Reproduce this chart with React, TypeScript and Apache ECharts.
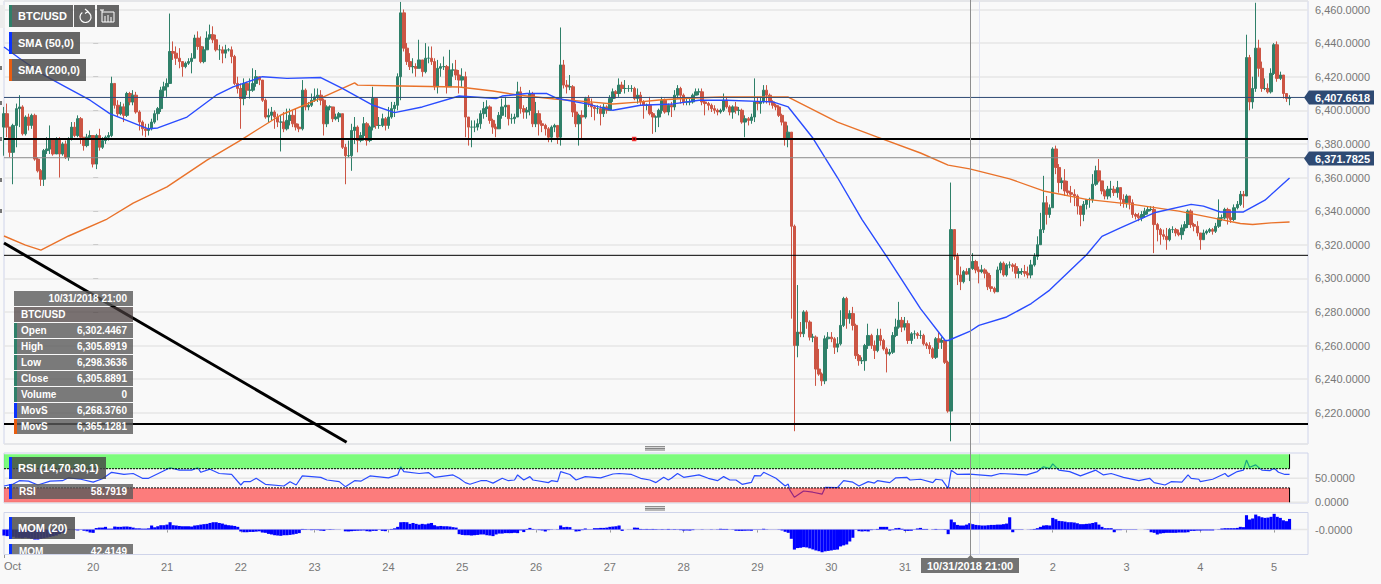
import React, { useEffect, useRef } from "react";
import * as echarts from "echarts";

// Hourly candles, one array per day. Each row is [close, high, low]; open is the previous close.
const firstOpen = 6390;
const firstHour = -29; // hours counted from Oct 20 00:00
const oct19 = [[6398,6402,6373],[6390,6404,6384],[6375,6390,6372],[6391,6392,6356],[6401,6404,6378],[6402,6409,6390],[6386,6403,6385],[6396,6397,6385],[6391,6398,6388],[6397,6398,6389],[6371,6398,6370],[6364,6372,6363],[6359,6365,6355],[6376,6377,6355],[6377,6384,6374],[6383,6391,6374],[6374,6383,6373],[6383,6384,6374],[6374,6384,6360],[6380,6381,6373],[6372,6382,6371],[6383,6384,6370],[6390,6393,6382],[6385,6393,6384],[6395,6397,6384],[6384,6396,6380],[6379,6384,6376],[6384,6386,6378],[6385,6388,6383]];
const oct20 = [[6368,6385,6366],[6385,6386,6365],[6378,6389,6376],[6382,6384,6377],[6384,6385,6380],[6385,6387,6382],[6416,6420,6384],[6403,6412,6401],[6398,6406,6396],[6402,6405,6397],[6397,6404,6393],[6410,6411,6396],[6405,6411,6403],[6409,6412,6403],[6399,6411,6398],[6393,6400,6388],[6389,6394,6385],[6388,6392,6384],[6389,6392,6385],[6393,6395,6388],[6398,6400,6392],[6401,6402,6394],[6412,6414,6399],[6414,6417,6408]];
const oct21 = [[6416,6419,6408],[6435,6457.6,6416],[6434,6441,6430],[6431,6438,6427],[6429,6437,6425],[6426,6429,6420],[6428,6429,6425],[6429,6431,6427],[6431,6434,6422],[6443,6445,6431],[6438,6447,6436],[6429,6444,6428],[6436,6438,6428],[6443,6447,6436],[6445,6451,6442],[6442,6450,6440],[6436,6445,6435],[6436,6439,6430],[6434,6438,6428],[6436,6439,6431],[6436,6437,6435],[6432,6438,6428],[6416,6433,6415],[6413,6420,6410]];
const oct22 = [[6407,6416,6389],[6416,6419,6403],[6412,6417,6409],[6412,6419,6407],[6416,6425,6411],[6420,6424,6414],[6418,6420,6415],[6406,6417,6405],[6396,6407,6395],[6397,6401,6393],[6399,6402,6394],[6396,6400,6389],[6393,6398,6390],[6393,6397,6375.5],[6389,6399,6387],[6394,6401,6388],[6397,6401,6391],[6392,6400,6390],[6390,6401,6388],[6389,6392,6387],[6412,6418,6388],[6402,6413,6400],[6403,6405,6400],[6406,6410,6402]];
const oct23 = [[6408,6413,6405],[6409,6413,6405],[6406,6412,6403],[6392,6407,6385],[6402,6403,6390],[6402,6403,6400],[6395,6402,6393],[6396,6398,6394],[6398,6399,6393],[6378,6398,6377],[6373,6380,6356],[6373,6382,6372],[6388,6392,6364],[6390,6396,6380],[6382,6391,6375],[6385,6387,6381],[6392,6396,6382],[6382,6393,6379],[6390,6391,6381],[6407,6414,6388],[6391,6407,6389],[6391,6396,6389],[6395,6398,6390],[6391,6396,6388]];
const oct24 = [[6396,6402,6389],[6401,6405,6395],[6403,6405,6396],[6420,6422,6400],[6458,6464.5,6406],[6437,6460,6435],[6429,6440,6427],[6426,6434,6424],[6426,6431,6422],[6425,6428,6420],[6430,6442,6426],[6423,6430,6420],[6431,6440,6422],[6431,6438,6428],[6429,6438,6427],[6414,6431,6412],[6425,6430,6410],[6426,6428,6420],[6426,6432,6424],[6414,6427,6410],[6424,6436,6414],[6424,6428,6420],[6421,6430,6418],[6418,6424,6410]];
const oct25 = [[6420,6425,6414],[6396,6423,6384],[6390,6396,6379],[6390,6394,6378],[6390,6394,6387],[6392,6395,6388],[6398,6400,6389],[6401,6405,6395],[6402,6406,6396],[6394,6403,6392],[6390,6395,6386],[6389,6392,6384],[6397,6399,6389],[6402,6407,6395],[6403,6408,6396],[6395,6400,6391],[6395,6398,6392],[6396,6398,6392],[6411,6417,6396],[6401,6414,6398],[6399,6403,6395],[6400,6402,6395],[6410,6412,6397],[6392,6411,6390]];
const oct26 = [[6398,6405,6390],[6392,6400,6385],[6391,6394,6387],[6389,6392,6385],[6384,6390,6381],[6390,6391,6381],[6391,6392,6387],[6384,6391,6380],[6427,6449.3,6379],[6415,6430,6413],[6414,6418,6410],[6414,6421,6412],[6399,6415,6396],[6392,6404,6390],[6397,6398,6379],[6396,6400,6383],[6407,6408,6395],[6404,6409,6402],[6402,6407,6396],[6401,6403,6394],[6401,6403,6398],[6398,6403,6391],[6402,6404,6396],[6400,6403,6398]];
const oct27 = [[6407,6409,6403],[6411,6413,6405],[6410,6412,6407],[6415,6419,6408],[6413,6417,6411],[6413,6418,6410],[6413,6415,6411],[6413,6415,6411],[6407,6414,6406],[6409,6413,6404],[6405,6411,6403],[6403,6406,6395],[6403,6404,6400],[6398,6408,6397],[6396,6399,6386],[6396,6397,6387],[6400,6401,6390],[6406,6408,6398],[6399,6407,6398],[6403,6404,6397],[6402,6405,6396],[6409,6412,6400],[6413,6415,6407],[6409,6414,6404]];
const oct28 = [[6405,6410,6403],[6405,6407,6403],[6405,6407,6403],[6409,6410,6404],[6411,6413,6409],[6411,6413,6409],[6405,6413,6403],[6404,6406,6397],[6403,6405,6400],[6401,6404,6399],[6400,6403,6398],[6399,6401,6397],[6400,6401,6398],[6406,6410,6399],[6402,6408,6401],[6399,6403,6397],[6402,6403,6395],[6400,6405,6398],[6400,6402,6397],[6393,6401,6392],[6395,6397,6384],[6394,6396,6391],[6396,6398,6392],[6405,6419,6393]];
const oct29 = [[6404,6408,6400],[6405,6408,6398],[6412,6415,6404],[6409,6415,6404],[6405,6410,6403],[6403,6406,6401],[6402,6404,6400],[6397,6403,6396],[6393,6398,6391],[6383,6393,6379],[6387,6391,6378],[6331,6387,6276],[6260,6332,6209],[6268,6296,6253],[6267,6274,6265],[6280,6281,6265],[6274,6281,6270],[6265,6275,6263],[6265,6267,6262],[6246,6266,6236],[6243,6258,6242],[6239,6244,6236],[6264,6266,6237],[6265,6268,6258]];
const oct30 = [[6264,6268,6262],[6259,6265,6255],[6261,6265,6256],[6272,6281,6260],[6288,6289,6271],[6276,6289,6270],[6279,6281,6273],[6272,6283,6269],[6254,6273,6252],[6251,6255,6248],[6251,6253,6249],[6260,6261,6245],[6266,6273,6258],[6260,6267,6258],[6257,6263,6252],[6266,6270,6256],[6263,6270,6260],[6258,6264,6257],[6255,6259,6244],[6256,6258,6254],[6266,6268,6255],[6271,6276,6265],[6275,6286,6270],[6271,6277,6268]];
const oct31 = [[6273,6277,6269],[6263,6275,6261],[6267,6268,6261],[6267,6269,6264],[6266,6268,6264],[6266,6269,6264],[6261,6267,6260],[6260,6262,6258],[6258,6262,6255],[6253,6259,6252],[6264,6265,6252],[6262,6268,6258],[6263,6265,6258],[6250,6264,6249],[6221,6251,6220],[6329,6357,6203],[6313,6329,6311],[6302,6315,6296],[6298,6307,6293],[6304,6305,6297],[6302.45,6306,6302],[6305.89,6305.89,6298.36],[6310,6315,6305],[6305,6311,6303]];
const nov1 = [[6304,6307,6297],[6305,6308,6303],[6303,6306,6300],[6295,6304,6293],[6294,6302,6292],[6292,6295,6291],[6305,6307,6292],[6309,6310,6303],[6302,6310,6301],[6308,6309,6301],[6308,6310,6306],[6307,6309,6304],[6303,6309,6300],[6304,6306,6300],[6304,6306,6302],[6303,6308,6301],[6302,6307,6300],[6308,6311,6300],[6313,6315,6307],[6320,6325,6311],[6329,6339,6320],[6345,6361,6327],[6338,6349,6332],[6342,6344,6336]];
const nov2 = [[6377,6378,6342],[6366,6379,6362],[6357,6368,6351],[6358,6360,6353],[6352,6365,6349],[6351,6358,6349],[6350,6355,6345],[6349,6353,6343],[6343,6350,6338],[6338,6343,6331],[6344,6346,6334],[6347,6347,6341],[6347,6348,6342],[6356,6362,6345],[6364,6367,6355],[6358,6371,6357],[6352,6358,6350],[6349,6353,6347],[6353,6355,6347],[6353,6358,6348],[6351,6355,6349],[6354,6358,6348],[6347,6354,6343],[6345,6350,6342]];
const nov3 = [[6349,6350,6342],[6345,6349,6341],[6338,6347,6336],[6337,6339,6335],[6336,6339,6334],[6338,6340,6334],[6340,6342,6336],[6341,6343,6338],[6341,6343,6340],[6332,6343,6315],[6329,6333,6322],[6326,6330,6320],[6325,6329,6323],[6323,6330,6317],[6329,6330,6322],[6329,6331,6327],[6327,6330,6325],[6326,6329,6325],[6330,6332,6323],[6332,6334,6328],[6340,6341,6330],[6332,6341,6330],[6331,6333,6328],[6327,6334,6325]];
const nov4 = [[6323,6327,6317],[6327,6329,6325],[6328,6329,6326],[6329,6330,6327],[6328,6330,6326],[6331,6333,6327],[6336,6347,6330],[6336,6338,6334],[6341,6342,6335],[6336,6342,6332],[6335,6341,6333],[6342,6344,6334],[6344,6346,6341],[6350,6352,6343],[6349,6352,6342],[6431.4,6445,6349],[6405,6433,6400],[6413,6420,6401],[6437,6464,6411],[6425,6442,6420],[6413,6429,6411],[6413,6419,6412],[6411,6416,6410],[6422,6425,6410]];
const nov5 = [[6439,6440,6421],[6419,6441,6417],[6421,6423,6418],[6410,6421,6407],[6407,6410,6405],[6407.66,6409,6403]];

// Moving averages and RSI, as [hour, value] vertices.
const sma50 = [[-29,6437.7],[-24,6431],[-16,6421],[-9,6414],[-1,6406],[5.4,6398],[15,6391],[18,6389],[21,6389.5],[30.5,6396],[40,6409],[45.5,6414],[55,6420],[63,6419],[74,6419.5],[81,6413],[91,6403],[98,6398.6],[107,6402],[119,6408.5],[131,6407],[133,6408.5],[141,6410],[147.5,6410],[151,6407],[160.5,6403.8],[169,6400],[178,6403],[188.5,6403.8],[197,6406],[206,6406],[221,6405],[226,6402],[234,6383.5],[242,6360],[250,6335],[258,6313],[263,6299],[269,6282],[277,6263],[278,6263],[285,6268.38],[288,6272],[297,6277],[305,6285],[311,6293],[323,6314],[328,6325],[334,6330],[345,6339],[357,6344],[361,6343],[366.5,6339.5],[374,6339.5],[381,6346.5],[389,6359.7]];
const sma200 = [[-29,6325.2],[-22,6319.8],[-17,6316.8],[-8,6325.2],[4.5,6335.3],[13,6344.8],[24,6354.4],[37,6370.4],[48,6382.3],[61,6397.2],[74,6407.3],[85,6416.3],[86,6415],[100,6414.5],[119,6413.9],[130,6411.5],[138,6409.1],[150,6406.7],[162.5,6404.9],[169,6403.8],[177,6404.9],[184,6406.1],[195,6407.3],[204,6407.9],[217,6407.9],[226,6407.9],[242,6393],[255,6384],[269,6374.6],[278,6367.4],[285,6365.13],[298,6359.2],[309,6352],[323,6347],[338,6344],[353,6340],[364,6336],[373,6332.6],[377,6332],[383,6333],[389,6333.5]];
const rsiA = [[-29,34],[-26,38],[-24,45],[-21,44],[-18,36],[-14,44],[-10,45],[-8,51],[-4,48],[0,42],[3,49],[6,62.5],[10,58],[13,60],[16,50],[18,50],[25,72],[28,67],[32,67],[34,72],[35,62.5],[38,69],[41,60],[45,58],[48,36],[49,43],[51,43],[53,50],[56,37.5],[62,34],[64,43],[66,36],[68,55],[74,52],[76,46.5],[80,43],[82,32.6],[85,45],[87,44],[90,55],[96,51],[99,57],[100,74],[101,64],[106,60],[109,62],[111,52],[117,57],[119,50]];
const rsiB = [[121,41],[122.5,37.5],[126,45],[128,45],[130,40],[133,50],[135,45],[137,46.5],[138,57],[140,46.5],[142,53.5],[143,46.5],[148,41],[149,45],[151,43],[152,64],[155,58],[157,46.5],[160,53.5],[165,51],[169,59],[171,60],[175,58],[178,50],[181,46.5],[183,41],[185.5,52],[187,46.5],[188,50],[190,60],[192,52],[197,57],[200,50],[203,45],[205,53.5],[207,46.5],[209,46.5],[211,37.5],[214,41.5],[215,55.5],[217,55],[218,62.5],[222,50],[225,34],[226,38],[226.5,26],[228,10.5],[231,23.6],[234,21],[237,17],[238,31],[242,30.5],[244,45],[247,42],[249,34],[252,43],[254,40],[255,45],[259,41],[261,51],[264.5,52],[265.6,46.5],[269,48]];
const rsiC = [[273,41],[274,48],[276,46.5],[278,29],[279,67],[281,58],[285,58.79],[292,55],[295,60],[303.5,57],[307,64],[309,74],[311,70],[312,80],[314,67],[317.5,64],[321,55],[326,67],[328.5,57],[331,60],[335,52],[340,45],[343.5,50],[345,41],[348.5,36],[350.5,43],[354,42],[356,57],[357,50],[359.5,48],[360,43],[364,48],[368,60],[369,53.5],[372,64],[374,67],[375,88],[376,73],[378,78],[380,67],[382.6,66],[384,71],[385.4,62.5],[387.5,58],[389,58]];

// Momentum bars, one value per hour, grouped by day.
const mom19 = [-40,-44,-44,-49,-55,-56,-58,-54,-58,-62,-67,-67,-62,-58,-54,-49,-45,-40,-31,-22,-18,4,2,-4,-6,-2,-8,-12,-20];
const mom20 = [-22,10,13,13,18,6,6,20,18,18,20,20,18,13,8,8,6,6,8,27,15,22,29,29];
const mom21 = [33,49,29,27,24,22,22,22,20,27,29,33,36,38,44,49,49,44,40,33,29,27,24,18];
const mom22 = [-13,-18,-18,-16,-16,-14,-12,-20,-22,-29,-33,-38,-40,-42,-38,-38,-36,-33,-29,-24,4,-3,-2,-4];
const mom23 = [-3,-4,-7,-9,-2,3,2,-1,-1,0,-12,-13,-11,-9,-8,-7,-6,-11,-13,-9,-9,-2,-9,-11];
const mom24 = [2,4,8,18,49,50,49,38,44,38,33,38,35,40,44,29,22,24,22,22,20,16,13,-31];
const mom25 = [-36,-38,-38,-40,-38,-36,-33,-33,-38,-40,-44,-33,-27,-27,-24,-24,-24,-22,-24,-6,-17,4,11,4];
const mom26 = [2,-4,-6,-13,-4,2,1,2,27,16,18,16,2,-13,-11,-4,7,2,2,9,9,11,11,13];
const mom27 = [18,20,22,27,-9,0,1,1,13,12,4,3,4,3,4,3,2,3,2,4,2,3,2,-4];
const mom28 = [-7,-6,-7,-4,1,1,2,1,1,-2,-1,2,5,4,4,1,2,-8,-9,-9,-8,-7,-8,-2];
const mom29 = [2,2,5,2,-1,1,-1,-2,-6,-15,-22,-62,-134,-124,-122,-118,-120,-126,-133,-140,-145,-152,-146,-143];
const mom30 = [-140,-136,-134,-113,-106,-100,-80,-55,-2,-11,-13,-11,-13,-4,2,4,18,18,18,-7,-4,9,11,5];
const mom31 = [-9,-9,-8,-2,7,11,4,4,0,2,4,-2,2,-3,-31,67,49,31,27,27,33,42.41,36,31];
const momN1 = [29,27,27,29,31,31,33,33,36,40,82,-18,-2,2,2,0,1,2,4,9,18,27,29,27];
const momN2 = [78,69,58,56,53,49,49,47,42,36,36,38,40,44,49,33,18,9,9,9,-18,-4,-4,-2];
const momN3 = [-2,-2,-2,-2,0,0,-1,-2,-18,-22,-33,-27,-24,-22,-22,-22,-22,-20,-20,-20,-18,-9,-9,-7];
const momN4 = [-7,-6,-6,-6,-6,-1,2,7,9,9,9,9,11,18,16,96,67,74,100,89,82,78,80,85];
const momN5 = [105,85,78,62,56,71];

// Levels and annotations
const thickLevels = [6383, 6213.3];
const thinLevel = 6313.7;
const lastPrice = 6407.6618;
const secondPrice = 6371.7825;
const trendline = [[-29, 6321], [82.4, 6202.4]];
const redMarker = [[175.9, 6383]];
const cursorHour = 285;
const monthStartHour = 288;

// Axis ticks
const dayTicks = [0,24,48,72,96,120,144,168,192,216,240,264,288,312,336,360,384];
const dayLabels = ["20","21","22","23","24","25","26","27","28","29","30","31","Nov","2","3","4","5"];

// Readouts
const readoutRows = [
  ["Open", "6,302.4467"], ["High", "6,305.8919"], ["Low", "6,298.3636"],
  ["Close", "6,305.8891"], ["Volume", "0"],
];
const maRows = [["MovS", "6,268.3760"], ["MovS", "6,365.1281"]];

const GREEN = "#2f8069";
const RED = "#cc5544";
const BLUE = "#2a4cff";
const ORANGE = "#e9722a";
const NAVY = "#2e4a73";
const FRAME = "#cfd4ea";
const SPLIT = "#e6e6e6";
const FONT = "Liberation Sans";
const X_MIN = -29;
const X_MAX = 395;
const toPx = (h: number) => 4 + ((h - X_MIN) * 1304) / (X_MAX - X_MIN);

function buildCandles() {
  const rows = [...oct19, ...oct20, ...oct21, ...oct22, ...oct23, ...oct24, ...oct25, ...oct26, ...oct27, ...oct28, ...oct29, ...oct30, ...oct31, ...nov1, ...nov2, ...nov3, ...nov4, ...nov5];
  let open = firstOpen;
  return rows.map((r, i) => {
    const [c, hi, lo] = r;
    const item = [firstHour + i, open, c, Math.min(lo, open, c), Math.max(hi, open, c)];
    open = c;
    return item;
  });
}

function buildMom() {
  const vals = [...mom19, ...mom20, ...mom21, ...mom22, ...mom23, ...mom24, ...mom25, ...mom26, ...mom27, ...mom28, ...mom29, ...mom30, ...mom31, ...momN1, ...momN2, ...momN3, ...momN4, ...momN5];
  return vals.map((v, i) => [firstHour + i, v]);
}

const txt = (x: number, y: number, text: string, opts: any = {}) => ({
  type: "text",
  x,
  y,
  z: 100,
  silent: true,
  style: {
    text,
    fill: "#fff",
    font: `bold ${opts.size || 11}px "${FONT}"`,
    align: opts.align || "left",
    verticalAlign: "middle",
  },
});
const rect = (x: number, y: number, w: number, h: number, fill: string, z = 90) => ({
  type: "rect",
  z,
  silent: true,
  shape: { x, y, width: w, height: h },
  style: { fill },
});
const seg = (x1: number, y1: number, x2: number, y2: number, stroke: string, lineWidth = 1, z = 95) => ({
  type: "line",
  z,
  silent: true,
  shape: { x1, y1, x2, y2 },
  style: { stroke, lineWidth },
});

function labelBox(x: number, y: number, w: number, h: number, text: string, accent: string) {
  return [
    rect(x, y, w, h, "rgba(70,70,70,0.82)"),
    rect(x, y, 3, h, accent, 91),
    txt(x + 9, y + h / 2, text),
  ];
}

function buildGraphic() {
  const BOX = "rgba(70,70,70,0.82)";
  const ROW = "rgba(90,90,90,0.8)";
  const g: any[] = [];
  g.push(...labelBox(9, 5, 64, 22, "BTC/USD", GREEN));
  // reload button
  g.push(rect(74, 5, 21, 22, BOX));
  g.push({ type: "arc", z: 95, silent: true, shape: { cx: 85.5, cy: 17, r: 5.5, startAngle: -1.2, endAngle: 4.1, clockwise: true }, style: { stroke: "#fff", fill: "none", lineWidth: 1.2 } });
  g.push({ type: "polyline", z: 95, silent: true, shape: { points: [[85, 9], [88, 11.5], [85, 13.5]] }, style: { stroke: "#fff", fill: "none", lineWidth: 1.2 } });
  // history button
  g.push(rect(97, 5, 22, 22, BOX));
  g.push({ type: "polyline", z: 95, silent: true, shape: { points: [[102, 12], [114, 12], [114, 22], [102, 22], [102, 10]] }, style: { stroke: "#fff", fill: "none", lineWidth: 1 } });
  g.push(seg(105, 16, 105, 22, "#fff"), seg(108, 15, 108, 22, "#fff"), seg(111, 17, 111, 22, "#fff"), seg(100, 10, 104, 10, "#fff"));
  g.push(...labelBox(9, 32, 71, 22, "SMA (50,0)", "#0a33ff"));
  g.push(...labelBox(9, 59, 77, 22, "SMA (200,0)", "#e85d10"));

  // left gutter details
  g.push(rect(0, 5, 5, 23, "#ececec", 2));
  [68, 103, 139, 180, 211].forEach((y) => g.push(rect(0, y - 2, 2, 4, "#777", 2)));

  // data window
  g.push(rect(14, 291, 119, 15, ROW));
  g.push(txt(127, 298.5, "10/31/2018 21:00", { size: 10, align: "right" }));
  g.push(rect(14, 307, 119, 15, "rgba(70,60,60,0.72)"));
  g.push(txt(21, 314.5, "BTC/USD", { size: 10 }));
  readoutRows.forEach(([k, v], i) => {
    const y = 323 + i * 16;
    g.push(rect(14, y, 119, 15, ROW), rect(14, y, 3, 15, GREEN, 91));
    g.push(txt(21, y + 7.5, k, { size: 10 }), txt(127, y + 7.5, v, { size: 10, align: "right" }));
  });
  maRows.forEach(([k, v], i) => {
    const y = 403 + i * 16;
    g.push(rect(14, y, 119, 15, ROW), rect(14, y, 3, 15, i ? "#e85d10" : "#0a33ff", 91));
    g.push(txt(21, y + 7.5, k, { size: 10 }), txt(127, y + 7.5, v, { size: 10, align: "right" }));
  });

  // panel labels
  g.push(...labelBox(9, 457, 97, 22, "RSI (14,70,30,1)", "#0a33ff"));
  g.push(rect(9, 484, 124, 15, ROW), rect(9, 484, 3, 15, "#0a33ff", 91));
  g.push(txt(19, 491.5, "RSI", { size: 10 }), txt(127, 491.5, "58.7919", { size: 10, align: "right" }));
  g.push(...labelBox(9, 517, 66, 22, "MOM (20)", "#0a33ff"));
  g.push(rect(9, 544, 124, 15, ROW), rect(9, 544, 3, 15, "#0a33ff", 91));
  g.push(txt(19, 551.5, "MOM", { size: 10 }), txt(127, 551.5, "42.4149", { size: 10, align: "right" }));
  // clip the MOM row at the panel's bottom edge
  g.push(rect(4, 555, 130, 6, "#f9f9f9", 101));
  g.push(seg(4, 554.5, 134, 554.5, FRAME, 1, 102));
  g.push(seg(4.5, 555, 4.5, 558, "#999", 1, 102));
  g.push({ type: "text", x: 4, y: 566, z: 102, silent: true, style: { text: "Oct", fill: "#777", font: `11px "${FONT}"`, align: "left", verticalAlign: "middle" } });

  // splitter grips
  [446.7, 448.4, 450, 506.7, 508.4, 510].forEach((y) => g.push(seg(645, y, 665, y, "#777", 1, 20)));

  // price tags
  [[lastPrice, 97.5], [secondPrice, 158.5]].forEach(([v, y]) => {
    g.push({ type: "polygon", z: 90, silent: true, shape: { points: [[1304, y], [1309, y - 7], [1374, y - 7], [1374, y + 7], [1309, y + 7]] }, style: { fill: NAVY } });
    g.push(txt(1315, y + 0.5, (v as number).toLocaleString("en-US", { minimumFractionDigits: 4, maximumFractionDigits: 4 })));
  });

  // cursor
  const cx = Math.round(toPx(cursorHour)) + 0.5;
  g.push(seg(cx, 0, cx, 558, "#8e8e8e", 1, 30));
  g.push({ type: "polygon", z: 90, silent: true, shape: { points: [[cx - 3, 558], [cx, 555], [cx + 3, 558]] }, style: { fill: "#777" } });
  g.push(rect(921, 558, 98, 15, "rgba(100,100,100,0.9)"));
  g.push(txt(970, 565.5, "10/31/2018 21:00", { align: "center" }));
  return g;
}

const lineSeries = (name: string, data: number[][], color: string, width: number, idx: number, z: number, extra: any = {}) => ({
  name,
  type: "line",
  data,
  xAxisIndex: idx,
  yAxisIndex: idx,
  showSymbol: false,
  silent: true,
  z,
  lineStyle: { color, width, ...(extra.lineStyle || {}) },
  ...(extra.rest || {}),
});

const monthMark = {
  silent: true,
  symbol: "none",
  label: { show: false },
  lineStyle: { color: "#dfe2f2", width: 1, type: "solid" },
  data: [{ xAxis: monthStartHour }],
  z: 1,
};

function baseX(idx: number, showLabels: boolean) {
  return {
    type: "value",
    gridIndex: idx,
    min: X_MIN,
    max: X_MAX,
    splitLine: { show: false },
    axisLine: { show: false },
    axisTick: showLabels
      ? { show: true, length: 3, lineStyle: { color: "#999" }, customValues: dayTicks }
      : { show: false },
    axisLabel: showLabels
      ? {
          show: true,
          color: "#777",
          fontFamily: FONT,
          fontSize: 11,
          margin: 7,
          customValues: dayTicks,
          formatter: (v: number) => dayLabels[dayTicks.indexOf(v)] ?? "",
        }
      : { show: false },
  };
}

export default function App() {
  const ref = useRef<HTMLDivElement>(null);
  useEffect(() => {
    const chart = echarts.init(ref.current!, undefined, { renderer: "svg" });
    const candles = buildCandles();
    const mom = buildMom();
    const gridCommon = { left: 4, width: 1304, show: true, backgroundColor: "#f9f9f9", borderColor: FRAME, borderWidth: 1 };
    const axisText = { color: "#777", fontFamily: FONT, fontSize: 11, margin: 7 };
    const flat = (v: number) => [[X_MIN, v], [X_MAX, v]];
    chart.setOption({
      animation: false,
      backgroundColor: "#f9f9f9",
      textStyle: { fontFamily: FONT },
      grid: [
        { ...gridCommon, top: 1, height: 443 },
        { ...gridCommon, top: 453, height: 50 },
        { ...gridCommon, top: 512.5, height: 42 },
      ],
      xAxis: [baseX(0, false), baseX(1, false), baseX(2, true)],
      yAxis: [
        {
          type: "value",
          gridIndex: 0,
          position: "right",
          min: 6201.4,
          max: 6465.06,
          splitNumber: 13,
          axisLine: { show: false },
          axisTick: { show: true, length: 5, lineStyle: { color: "#ccc" } },
          splitLine: { show: true, lineStyle: { color: SPLIT, width: 1.5 } },
          axisLabel: {
            ...axisText,
            showMinLabel: false,
            showMaxLabel: false,
            formatter: (v: number) => v.toLocaleString("en-US", { minimumFractionDigits: 4, maximumFractionDigits: 4 }),
          },
        },
        {
          type: "value",
          gridIndex: 1,
          position: "right",
          min: -1.46,
          max: 102.7,
          axisLine: { show: false },
          axisTick: { show: true, length: 5, lineStyle: { color: "#ccc" }, customValues: [0, 50] },
          splitLine: { show: false },
          axisLabel: { ...axisText, customValues: [0, 50], formatter: (v: number) => v.toFixed(4) },
        },
        {
          type: "value",
          gridIndex: 2,
          position: "right",
          min: -167,
          max: 114,
          axisLine: { show: false },
          axisTick: { show: true, length: 5, lineStyle: { color: "#ccc" }, customValues: [0] },
          splitLine: { show: false },
          axisLabel: { ...axisText, customValues: [0], formatter: () => "-0.0000" },
        },
      ],
      series: [
        {
          name: "BTC/USD",
          type: "candlestick",
          xAxisIndex: 0,
          yAxisIndex: 0,
          encode: { x: 0, y: [1, 2, 3, 4] },
          data: candles,
          barWidth: 3,
          silent: true,
          z: 3,
          itemStyle: { color: GREEN, color0: RED, borderColor: GREEN, borderColor0: RED, borderWidth: 1 },
          markLine: monthMark,
        },
        lineSeries("SMA 200", sma200, ORANGE, 1.4, 0, 4),
        lineSeries("SMA 50", sma50, BLUE, 1.4, 0, 5),
        lineSeries("Last", flat(lastPrice), NAVY, 1, 0, 6),
        lineSeries("Level", flat(secondPrice), "#8a8a8a", 1, 0, 6),
        lineSeries("Support", flat(thinLevel), "#000", 1, 0, 6),
        lineSeries("Level", flat(thickLevels[0]), "#000", 2, 0, 6),
        lineSeries("Level", flat(thickLevels[1]), "#000", 2, 0, 6),
        lineSeries("Trend", trendline, "#000", 3, 0, 7),
        {
          type: "scatter",
          xAxisIndex: 0,
          yAxisIndex: 0,
          data: redMarker,
          symbol: "rect",
          symbolSize: 3,
          silent: true,
          z: 8,
          itemStyle: { color: "#000", borderColor: "#ff1010", borderWidth: 1.5 },
        },
        // RSI panel
        lineSeries("Mid", flat(50), SPLIT, 1.5, 1, 1),
        lineSeries("Zero", flat(0), SPLIT, 1.5, 1, 1),
        lineSeries("RSI", [...rsiA, ...rsiB, ...rsiC], BLUE, 1.2, 1, 2),
        lineSeries("Upper", [[X_MIN, 70], [389, 70]], "#000", 1, 1, 4, {
          lineStyle: { type: [2, 1] },
          rest: {
            markArea: {
              silent: true,
              z: 3,
              itemStyle: { color: "rgba(0,255,0,0.5)" },
              label: { show: false },
              data: [[{ xAxis: X_MIN, yAxis: 70 }, { xAxis: 389, yAxis: 100 }]],
            },
            markLine: monthMark,
          },
        }),
        lineSeries("UpperEdge", [[389, 70], [389, 100]], "#000", 1, 1, 4),
        lineSeries("Lower", [[X_MIN, 30], [389, 30]], "#000", 1, 1, 4, {
          lineStyle: { type: [2, 1] },
          rest: {
            markArea: {
              silent: true,
              z: 3,
              itemStyle: { color: "rgba(255,0,0,0.5)" },
              label: { show: false },
              data: [[{ xAxis: X_MIN, yAxis: 0 }, { xAxis: 389, yAxis: 30 }]],
            },
          },
        }),
        lineSeries("LowerEdge", [[389, 30], [389, 0]], "#000", 1, 1, 4),
        // MOM panel
        lineSeries("Zero", flat(0), SPLIT, 1.5, 2, 1, { rest: { markLine: monthMark } }),
        {
          name: "MOM",
          type: "bar",
          xAxisIndex: 2,
          yAxisIndex: 2,
          data: mom,
          barWidth: 3.1,
          silent: true,
          z: 3,
          itemStyle: { color: "#0000ff" },
        },
      ],
      graphic: { elements: buildGraphic() },
    });
    return () => chart.dispose();
  }, []);
  return (
    <div
      ref={ref}
      style={{ position: "fixed", left: 0, top: 0, width: 1381, height: 584, background: "#f9f9f9" }}
    />
  );
}
